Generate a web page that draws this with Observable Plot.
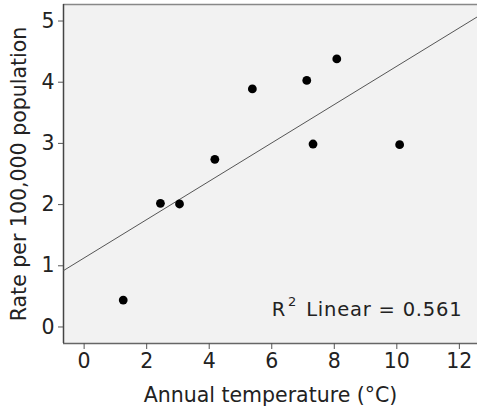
<!DOCTYPE html>
<html><head><meta charset="utf-8">
<script src="https://cdn.jsdelivr.net/npm/d3@7"></script>
<script src="https://cdn.jsdelivr.net/npm/@observablehq/plot@0.6"></script>
<style>html,body{margin:0;padding:0;background:#fff;overflow:hidden}</style>
</head><body><div id="chart"></div>
<script>
const temperature = [1.25, 2.44, 3.05, 4.18, 5.38, 7.12, 8.08, 7.32, 10.09];
const rate = [0.44, 2.02, 2.01, 2.74, 3.89, 4.03, 4.38, 2.99, 2.98];
const xTicks = [0, 2, 4, 6, 8, 10, 12];
const yTicks = [0, 1, 2, 3, 4, 5];
const xDomain = [-0.66, 12.58];
const yDomain = [-0.27, 5.27];
const fitLabel = "Linear = 0.561";
const xLabel = "Annual temperature (°C)";
const yLabel = "Rate per 100,000 population";

const data = temperature.map((t, i) => ({t, r: rate[i]}));
const mx = d3.mean(temperature), my = d3.mean(rate);
const slope = d3.sum(data, d => (d.t - mx) * (d.r - my)) / d3.sum(data, d => (d.t - mx) ** 2);
const intercept = my - slope * mx;
const fit = xDomain.map(t => ({t, r: intercept + slope * t}));

const chart = Plot.plot({
  width: 477,
  height: 413,
  marginLeft: 63,
  marginRight: 0,
  marginTop: 4,
  marginBottom: 70,
  style: {fontFamily: "DejaVu Sans", fontSize: "20px", color: "#222", background: "#fff"},
  x: {domain: xDomain, ticks: xTicks},
  y: {domain: yDomain, ticks: yTicks},
  marks: [
    Plot.frame({fill: "#f2f2f2", stroke: null}),
    Plot.ruleY([yDomain[1]], {stroke: "#888", strokeWidth: 1.5}),
    Plot.ruleY([yDomain[0]], {stroke: "#666", strokeWidth: 1.5}),
    Plot.ruleX([xDomain[0]], {stroke: "#444", strokeWidth: 1.5}),
    Plot.axisX({ticks: xTicks, tickFormat: d3.format("d"), tickSize: 6, tickPadding: 4, stroke: "#555", label: xLabel, labelArrow: "none", labelAnchor: "center", labelOffset: 58, fontSize: 20.5}),
    Plot.axisY({ticks: yTicks, tickFormat: d3.format("d"), tickSize: 5, tickPadding: 4, stroke: "#555", label: yLabel, labelArrow: "none", labelAnchor: "center", labelOffset: 52, fontSize: 20.5}),
    Plot.line(fit, {x: "t", y: "r", stroke: "#555", strokeWidth: 1, clip: true}),
    Plot.dot(data, {x: "t", y: "r", r: 4.4, fill: "#000", stroke: null}),
    Plot.text([fitLabel], {text: d => d, frameAnchor: "bottom-right", textAnchor: "end", dx: -15, dy: -27.5, fontSize: 19.5, fill: "#222"})
  ]
});
document.getElementById("chart").appendChild(chart);
// strip any axis-label arrows
d3.select(chart).selectAll("text").each(function(){
  const s = this.textContent;
  if (s.includes("→") || s.includes("↑")) {
    const clean = s.replace(/\s*[→↑]\s*/g, "");
    const tsp = d3.select(this).selectAll("tspan");
    if (tsp.size()) tsp.each(function(){ this.textContent = this.textContent.replace(/\s*[→↑]\s*/g, ""); });
    else this.textContent = clean;
  }
});
// superscript for R²
d3.select(chart).selectAll("text").filter(function(){ return this.textContent === fitLabel; }).each(function(){
  const t = d3.select(this);
  t.text(null).style("letter-spacing", "0.8px");
  t.append("tspan").text("R");
  t.append("tspan").attr("dx", "2").attr("dy", "-10").attr("font-size", "13px").text("2");
  t.append("tspan").attr("dx", "9").attr("dy", "10").text(fitLabel);
});
</script></body></html>
